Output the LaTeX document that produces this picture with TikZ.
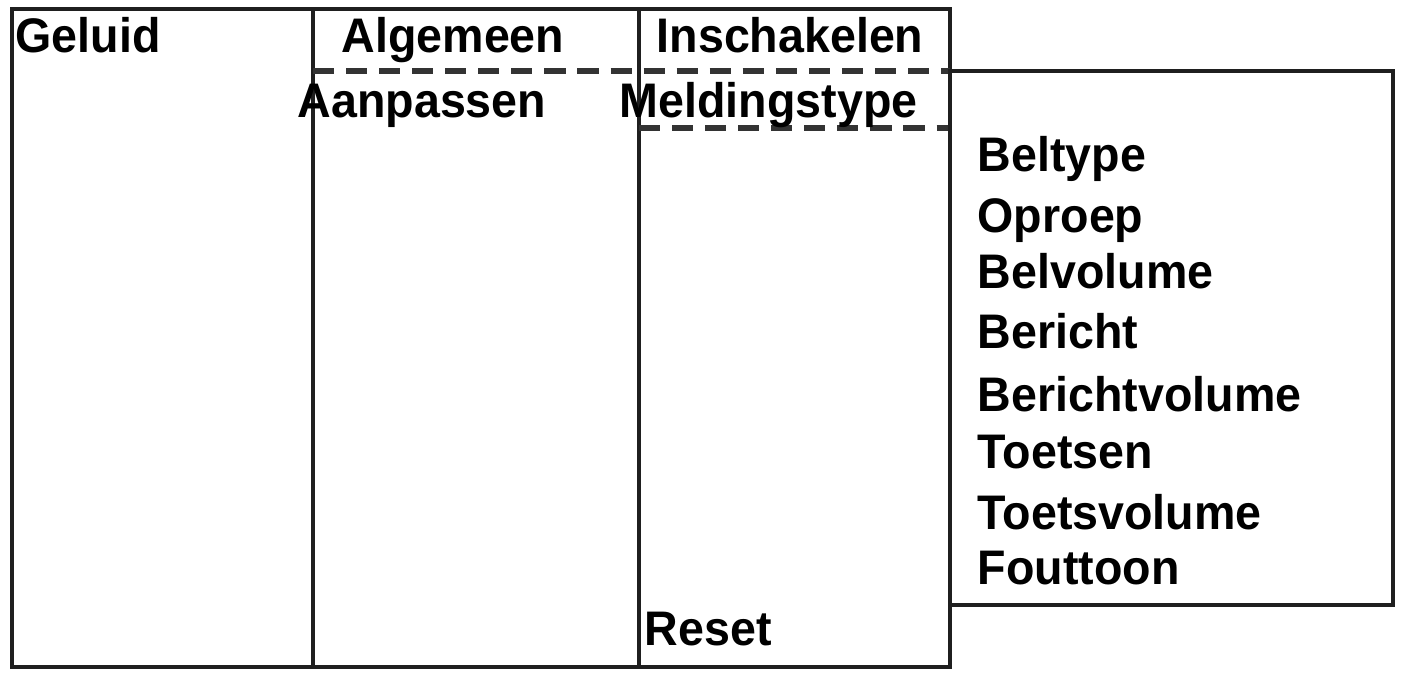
\documentclass[tikz,border=0pt]{standalone}
\usepackage{fontspec}
\setmainfont[FakeStretch=0.96]{Liberation Sans}
\usetikzlibrary{calc}
\tikzset{
  frame/.style={line width=1.4pt, draw=black!88},
  sep/.style={line width=1.7pt, draw=black!80, dash pattern=on 6pt off 3.4pt},
  label/.style={anchor=base west, inner sep=0pt, font=\fontsize{13.8}{16}\selectfont\bfseries}
}
\newcommand{\menuitem}[3]{\node[label] (#1) at (977,#2) {#3}}

\begin{document}
\begin{tikzpicture}[x=0.01cm, y=-0.01cm]
                        \useasboundingbox (0,0) rectangle (1401,673);
                        \draw[frame] (12,9) rectangle (950,667);
                        \draw[frame] (313,9) -- (313,667);
                        \draw[frame] (639,9) -- (639,667);
                        \draw[sep] (313,71) -- (950,71);
                        \draw[sep] (639,128) -- (950,128);
                        \draw[frame, fill=white] (950,71) rectangle (1393,605);
                        \node[label] (geluid) at (15,53) {Geluid};
                        \node[label] (algemeen) at (341,53) {Algemeen};
                        \node[label] (inschakelen) at (656,53) {Inschakelen};
                        \node[label] (aanpassen) at (297,117) {Aanpassen};
                        \node[label] (melding) at (619,117) {Meldingstype};
                        \node[label] (reset) at (644,645) {Reset};
                        \menuitem{beltype}{172}{Beltype};
                        \menuitem{oproep}{232}{Oproep};
                        \menuitem{belvol}{288}{Belvolume};
                        \menuitem{bericht}{348}{Bericht};
                        \menuitem{berichtvol}{411}{Berichtvolume};
                        \menuitem{toetsen}{468}{Toetsen};
                        \menuitem{toetsvol}{529}{Toetsvolume};
                        \menuitem{fouttoon}{584}{Fouttoon};
                    \end{tikzpicture}
\end{document}
